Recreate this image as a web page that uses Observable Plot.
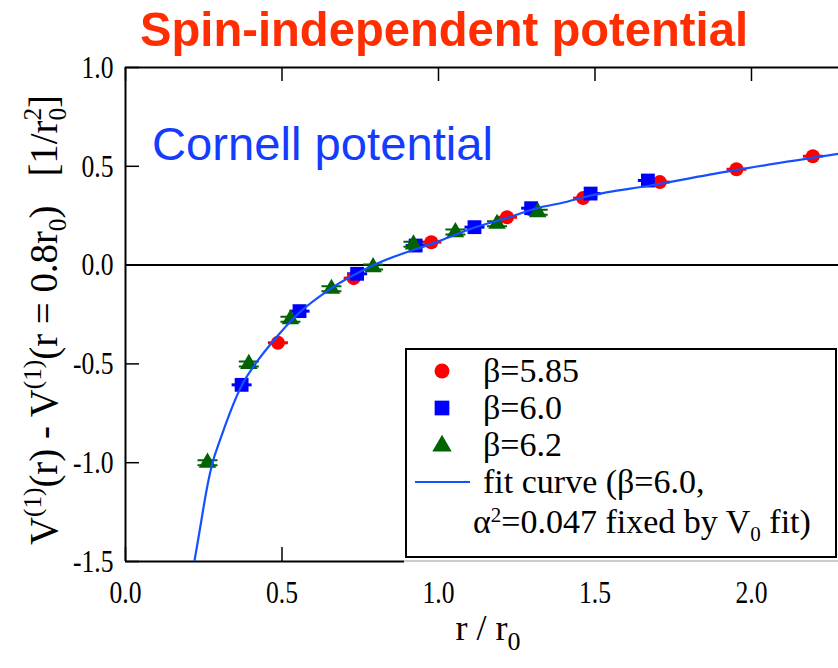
<!DOCTYPE html>
<html><head><meta charset="utf-8">
<script src="https://cdn.jsdelivr.net/npm/d3@7"></script>
<script src="https://cdn.jsdelivr.net/npm/@observablehq/plot@0.6"></script>
<style>body{margin:0;background:#fff} svg{display:block}</style>
</head><body><div id="chart"></div>
<script>
// ---- data ----
const xTicks = [0.0, 0.5, 1.0, 1.5, 2.0];
const yTicks = [-1.5, -1.0, -0.5, 0.0, 0.5, 1.0];

const b585R = [0.487, 0.729, 0.977, 1.219, 1.462, 1.707, 1.952, 2.196];
const b585V = [-0.393, -0.066, 0.116, 0.242, 0.339, 0.420, 0.485, 0.551];

const b60R = [0.371, 0.556, 0.740, 0.927, 1.115, 1.296, 1.486, 1.669];
const b60V = [-0.606, -0.233, -0.044, 0.099, 0.192, 0.288, 0.362, 0.428];

const b62R = [0.262, 0.394, 0.527, 0.658, 0.791, 0.920, 1.054, 1.187, 1.317];
const b62V = [-1.000, -0.500, -0.274, -0.120, -0.010, 0.105, 0.167, 0.209, 0.268];

const fitR = [0.220, 0.232, 0.265, 0.278, 0.301, 0.371, 0.415, 0.485, 0.556, 0.655, 0.793, 1.006, 1.113, 1.219, 1.326, 1.390, 1.486, 1.677, 1.943, 2.278];
const fitV = [-1.50, -1.39, -1.09, -1.00, -0.89, -0.61, -0.50, -0.36, -0.24, -0.12, 0.00, 0.124, 0.189, 0.239, 0.293, 0.313, 0.352, 0.403, 0.479, 0.563];

const seriesNames = ["β=5.85", "β=6.0", "β=6.2"];
const titleText = "Spin-independent potential";
const noteText = "Cornell potential";

// ---- tables built from the arrays ----
const zip = (R, V) => R.map((r, i) => ({r, v: V[i]}));
const s585 = zip(b585R, b585V), s60 = zip(b60R, b60V), s62 = zip(b62R, b62V), fit = zip(fitR, fitV);

const capSingle = {draw(ctx, size) {const w = Math.sqrt(size / Math.PI); ctx.moveTo(-w, 0); ctx.lineTo(w, 0);}};
const capDouble = {draw(ctx, size) {const w = Math.sqrt(size / Math.PI); ctx.moveTo(-w, -2.5); ctx.lineTo(w, -2.5); ctx.moveTo(-w, 2.5); ctx.lineTo(w, 2.5);}};

const RED = "#ff0000", BLUE = "#0000ff", GREEN = "#006400", FIT = "#1450ff";
const W = 838, H = 668, mL = 125, mT = 67, mB = 107, mR = 0;
const frameH = H - mT - mB, frameW = W - mL - mR;

const fmt = d => d.toFixed(1);
const plot = Plot.plot({
  width: W, height: H, marginLeft: mL, marginTop: mT, marginBottom: mB, marginRight: mR,
  x: {domain: [0, 2.278]},
  y: {domain: [-1.5, 1.0]},
  style: {background: "white", fontFamily: "'Liberation Serif', serif", overflow: "visible"},
  marks: [
    Plot.ruleY([0], {stroke: "black", strokeWidth: 2}),
    Plot.ruleY([1.0], {stroke: "black", strokeWidth: 2}),
    Plot.ruleY([-1.5], {stroke: "black", strokeWidth: 2}),
    Plot.ruleX([0], {stroke: "black", strokeWidth: 2}),
    Plot.tickX(xTicks, {x: d => d, insetTop: frameH - 14, stroke: "black", strokeWidth: 1.5}),
    Plot.tickX(xTicks, {x: d => d, insetBottom: frameH - 14, stroke: "black", strokeWidth: 1.5}),
    Plot.tickY(yTicks, {y: d => d, insetRight: frameW - 14, stroke: "black", strokeWidth: 1.5}),
    Plot.axisX(xTicks, {tickSize: 0, tickPadding: 19, fontSize: 32, tickFormat: fmt, label: null}),
    Plot.axisY(yTicks, {tickSize: 0, tickPadding: 12, fontSize: 32, tickFormat: fmt, label: null}),
    // error-bar caps
    Plot.dot(s585, {x: "r", y: "v", symbol: capSingle, r: 10, stroke: RED, strokeWidth: 3}),
    Plot.dot(s60, {x: "r", y: "v", symbol: capSingle, r: 10, stroke: BLUE, strokeWidth: 3}),
    Plot.dot(s62, {x: "r", y: "v", symbol: capDouble, r: 10, stroke: GREEN, strokeWidth: 2}),
    // markers
    Plot.dot(s585, {x: "r", y: "v", symbol: "circle", r: 7, fill: RED}),
    Plot.dot(s60, {x: "r", y: "v", symbol: "square", r: 7.8, fill: BLUE}),
    Plot.dot(s62, {x: "r", y: "v", symbol: "triangle", r: 6.5, fill: GREEN}),
    // fit curve
    Plot.line(fit, {x: "r", y: "v", stroke: FIT, strokeWidth: 2.2, curve: "monotone-x", clip: true})
  ]
});
document.getElementById("chart").appendChild(plot);

const svg = d3.select(plot);

// compress tick labels like the reference (narrow glyphs)
svg.selectAll("g[aria-label='x-axis tick label'] text, g[aria-label='y-axis tick label'] text").each(function() {
  const L = this.getComputedTextLength();
  this.setAttribute("textLength", L * 0.8);
  this.setAttribute("lengthAdjust", "spacingAndGlyphs");
});

// title
svg.append("text").attr("x", 444).attr("y", 46).attr("text-anchor", "middle")
  .attr("font-family", "'Liberation Sans', Arial, sans-serif").attr("font-weight", "bold")
  .attr("font-size", 49).attr("fill", "#ff2d00")
  .attr("textLength", 608).attr("lengthAdjust", "spacingAndGlyphs").text(titleText);

// annotation
svg.append("text").attr("x", 152).attr("y", 160).attr("text-anchor", "start")
  .attr("font-family", "'Liberation Sans', Arial, sans-serif")
  .attr("font-size", 46).attr("fill", "#143cff")
  .attr("textLength", 341).attr("lengthAdjust", "spacingAndGlyphs").text(noteText);

// y label
const yl = svg.append("text").attr("transform", "translate(57,320) rotate(-90)")
  .attr("text-anchor", "middle").attr("font-family", "'Liberation Serif', serif")
  .style("white-space", "pre").attr("textLength", 450).attr("lengthAdjust", "spacingAndGlyphs");
const U = 16, D = 9;
[
  {t: "V", m: "n"}, {t: "(1)", m: "sup"}, {t: "(r) - V", m: "n", back: U},
  {t: "(1)", m: "sup"}, {t: "(r = 0.8r", m: "n", back: U}, {t: "0", m: "sub"},
  {t: ")   [1/r", m: "n", back: -D}, {t: "0", m: "sub"}, {t: "2", m: "subsup"}, {t: "]", m: "n", back: U}
].forEach(p => {
  const t = yl.append("tspan").text(p.t);
  if (p.m === "n") t.attr("font-size", 40);
  if (p.m === "sup") t.attr("font-size", 26).attr("dy", -U);
  if (p.m === "sub") t.attr("font-size", 26).attr("dy", D);
  if (p.m === "subsup") t.attr("font-size", 26).attr("dy", -U - D).attr("dx", -13);
  if (p.back !== undefined) t.attr("dy", p.back);
});

// x label
const xl = svg.append("text").attr("x", 488).attr("y", 640).attr("text-anchor", "middle")
  .attr("font-family", "'Liberation Serif', serif").style("white-space", "pre");
xl.append("tspan").attr("font-size", 36).text("r / r");
xl.append("tspan").attr("font-size", 26).attr("dy", 10).text("0");

// legend
const lg = svg.append("g").attr("text-anchor", "start");
lg.append("rect").attr("x", 404).attr("y", 349).attr("width", 434).attr("height", 214).attr("fill", "white");
lg.append("line").attr("x1", 404).attr("x2", 838).attr("y1", 561).attr("y2", 561).attr("stroke", "#cccccc").attr("stroke-width", 2);
lg.append("rect").attr("x", 406).attr("y", 349).attr("width", 430).attr("height", 208)
  .attr("fill", "white").attr("stroke", "black").attr("stroke-width", 2);
const sym = (type, r) => d3.symbol(type, r * r * Math.PI)();
lg.append("path").attr("d", sym(d3.symbolCircle, 7.5)).attr("transform", "translate(442,371)").attr("fill", RED);
lg.append("path").attr("d", sym(d3.symbolSquare, 8.3)).attr("transform", "translate(442,408)").attr("fill", BLUE);
lg.append("path").attr("d", sym(d3.symbolTriangle, 7.2)).attr("transform", "translate(442,446)").attr("fill", GREEN);
lg.append("line").attr("x1", 415).attr("x2", 470).attr("y1", 482).attr("y2", 482).attr("stroke", FIT).attr("stroke-width", 2.2);
const lt = (x, y) => lg.append("text").attr("x", x).attr("y", y).attr("text-anchor", "start")
  .attr("font-family", "'Liberation Serif', serif").attr("font-size", 34).style("white-space", "pre");
lt(483, 382).text(seriesNames[0]);
lt(483, 419).text(seriesNames[1]);
lt(483, 456).text(seriesNames[2]);
lt(483, 493).text("fit curve (β=6.0,");
const a2 = lt(473, 533);
a2.append("tspan").text("α");
a2.append("tspan").attr("font-size", 21).attr("dy", -11).text("2");
a2.append("tspan").attr("dy", 11).text("=0.047 fixed by V");
a2.append("tspan").attr("font-size", 21).attr("dy", 8).text("0");
a2.append("tspan").attr("dy", -8).text(" fit)");
</script>
</body></html>
